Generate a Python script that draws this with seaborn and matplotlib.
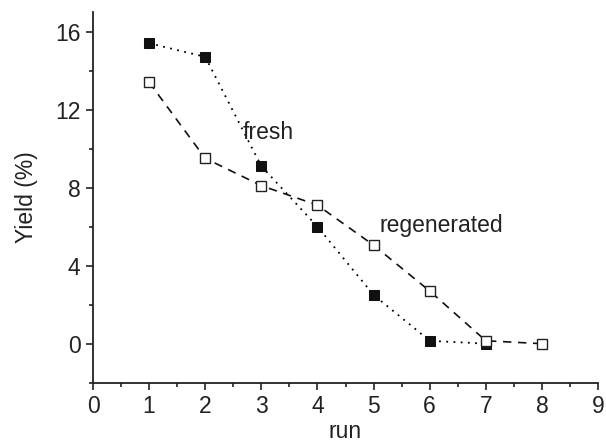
import matplotlib
matplotlib.use("Agg")
import matplotlib.pyplot as plt
import seaborn as sns
import pandas as pd
from matplotlib.ticker import MultipleLocator

runs_fresh = [1, 2, 3, 4, 5, 6, 7]
yield_fresh = [15.4, 14.7, 9.1, 6.0, 2.5, 0.15, 0.0]
runs_regen = [1, 2, 3, 4, 5, 6, 7, 8]
yield_regen = [13.4, 9.5, 8.1, 7.1, 5.05, 2.7, 0.15, 0.0]

sns.set_theme(style="ticks")
plt.rcParams['font.family'] = ['Liberation Sans', 'DejaVu Sans']

fig = plt.figure(figsize=(6.06, 4.45), dpi=100)
ax = fig.add_axes([93/606, 1 - 382.7/445, (598-93)/606, (382.7-12)/445])

df_f = pd.DataFrame({"run": runs_fresh, "y": yield_fresh})
df_r = pd.DataFrame({"run": runs_regen, "y": yield_regen})

sns.lineplot(data=df_f, x="run", y="y", ax=ax, color="black", linestyle=(0, (1, 3)),
             linewidth=1.3, marker="s", markersize=7, markerfacecolor="#111111",
             markeredgecolor="#111111")
sns.lineplot(data=df_r, x="run", y="y", ax=ax, color="#111111", linestyle=(0, (5, 4)),
             linewidth=1.2, marker="s", markersize=7, markerfacecolor="white",
             markeredgecolor="#222222", markeredgewidth=1.0)

ax.set_xlim(0, 9)
ax.set_ylim(-2, 17)
ax.xaxis.set_major_locator(MultipleLocator(1))
ax.xaxis.set_minor_locator(MultipleLocator(0.5))
ax.set_yticks([0, 4, 8, 12, 16])
ax.yaxis.set_minor_locator(MultipleLocator(2))
ax.tick_params(which="major", direction="out", length=5, width=1.2, labelsize=16.5,
               colors="#222222", pad=4)
ax.tick_params(which="minor", direction="out", length=3, width=1.2, colors="#222222")
for s in ["left", "bottom"]:
    ax.spines[s].set_linewidth(1.3)
    ax.spines[s].set_color("#222222")
for s in ["top", "right"]:
    ax.spines[s].set_visible(False)

ax.set_xlabel("run", fontsize=16.5, labelpad=1, color="#222222")
ax.set_ylabel("Yield (%)", fontsize=16.5, labelpad=12, color="#222222")

ax.text(2.67, 10.8, "fresh", fontsize=16.5, va="center", ha="left", color="#222222")
ax.text(5.1, 6.05, "regenerated", fontsize=16.5, va="center", ha="left", color="#222222")

fig.savefig("out.png", dpi=100)
